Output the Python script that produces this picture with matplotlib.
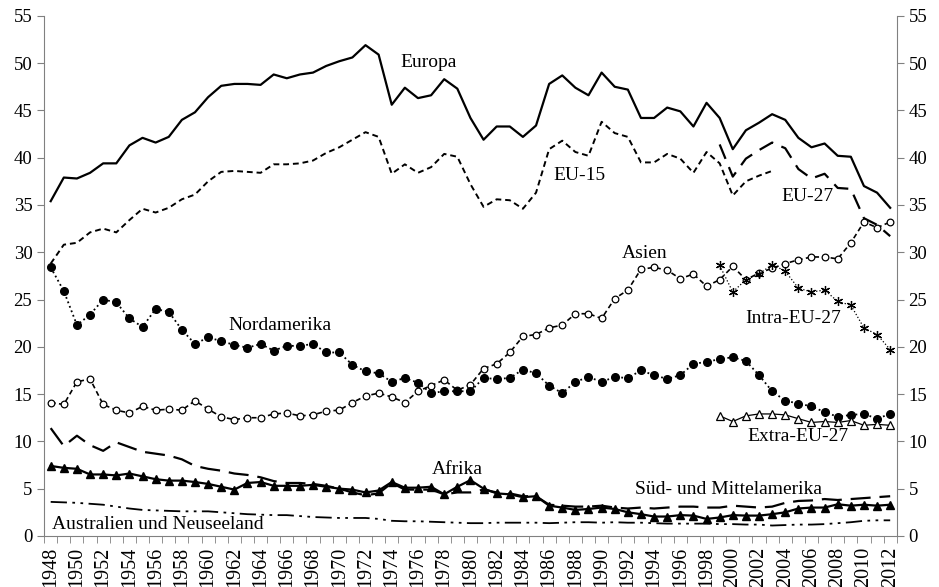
import numpy as np
import matplotlib
matplotlib.use("Agg")
import matplotlib.pyplot as plt

plt.rcParams['font.family'] = ['Liberation Serif', 'DejaVu Serif']

years = np.arange(1948, 2013)
years_eu = np.arange(1999, 2013)
years_eu15 = np.arange(1948, 2004)

europa = [35.4, 37.9, 37.8, 38.4, 39.4, 39.4, 41.3, 42.1, 41.6, 42.2,
          44.0, 44.8, 46.4, 47.6, 47.8, 47.8, 47.7, 48.8, 48.4, 48.8,
          49.0, 49.7, 50.2, 50.6, 51.9, 50.9, 45.6, 47.4, 46.3, 46.6,
          48.3, 47.3, 44.2, 41.9, 43.3, 43.3, 42.2, 43.4, 47.8, 48.7,
          47.4, 46.6, 49.0, 47.5, 47.2, 44.2, 44.2, 45.3, 44.9, 43.3,
          45.8, 44.2, 40.9, 42.9, 43.7, 44.6, 44.0, 42.1, 41.1, 41.5,
          40.2, 40.1, 37.0, 36.3, 34.7]

eu15 = [28.8, 30.8, 31.0, 32.1, 32.5, 32.1, 33.4, 34.6, 34.2, 34.7,
        35.6, 36.1, 37.5, 38.5, 38.6, 38.5, 38.4, 39.3, 39.3, 39.4,
        39.7, 40.5, 41.1, 41.9, 42.7, 42.2, 38.3, 39.3, 38.4, 39.0,
        40.4, 40.1, 37.2, 34.8, 35.6, 35.5, 34.6, 36.3, 40.9, 41.8,
        40.6, 40.2, 43.8, 42.6, 42.2, 39.5, 39.5, 40.4, 39.9, 38.4,
        40.6, 39.4, 36.0, 37.5, 38.1, 38.6]

eu27 = [41.4, 38.0, 39.9, 40.8, 41.6, 41.0, 38.8, 37.8, 38.3, 36.8,
        36.7, 33.6, 32.9, 31.7]

asien = [14.1, 13.9, 16.3, 16.6, 13.9, 13.3, 13.0, 13.7, 13.3, 13.4,
         13.3, 14.3, 13.4, 12.6, 12.3, 12.5, 12.5, 12.9, 13.0, 12.7,
         12.8, 13.2, 13.3, 14.1, 14.8, 15.1, 14.7, 14.1, 15.3, 15.9,
         16.5, 15.4, 16.0, 17.7, 18.2, 19.4, 21.1, 21.3, 22.0, 22.3,
         23.5, 23.5, 23.0, 25.1, 26.0, 28.2, 28.4, 28.1, 27.2, 27.7,
         26.4, 27.1, 28.5, 27.1, 27.8, 28.3, 28.8, 29.2, 29.5, 29.5,
         29.3, 31.0, 33.2, 32.6, 33.2]

nordamerika = [28.4, 25.9, 22.3, 23.4, 25.0, 24.7, 23.0, 22.1, 24.0, 23.7,
               21.8, 20.3, 21.0, 20.6, 20.2, 19.9, 20.3, 19.6, 20.1, 20.1,
               20.3, 19.4, 19.4, 18.1, 17.4, 17.2, 16.3, 16.7, 16.2, 15.1,
               15.3, 15.3, 15.3, 16.7, 16.6, 16.7, 17.6, 17.2, 15.9, 15.1,
               16.3, 16.8, 16.3, 16.8, 16.7, 17.5, 17.0, 16.6, 17.0, 18.2,
               18.4, 18.7, 18.9, 18.5, 17.0, 15.3, 14.3, 14.0, 13.7, 13.1,
               12.6, 12.8, 12.9, 12.4, 12.9]

intra_eu27 = [28.6, 25.8, 27.1, 27.7, 28.7, 28.0, 26.2, 25.8, 26.0, 24.8,
              24.4, 22.0, 21.3, 19.7]

extra_eu27 = [12.7, 12.1, 12.7, 12.9, 12.9, 12.8, 12.4, 12.0, 12.1, 12.0,
              12.2, 11.7, 11.8, 11.7]

afrika = [7.4, 7.2, 7.1, 6.5, 6.5, 6.4, 6.6, 6.3, 6.0, 5.85,
          5.85, 5.7, 5.5, 5.2, 4.9, 5.6, 5.7, 5.3, 5.3, 5.3,
          5.4, 5.2, 5.0, 4.9, 4.6, 4.8, 5.7, 5.1, 5.1, 5.2,
          4.4, 5.2, 5.9, 5.0, 4.5, 4.4, 4.1, 4.2, 3.2, 3.0,
          2.75, 2.85, 3.0, 2.85, 2.5, 2.3, 2.05, 2.05, 2.2, 2.15,
          1.8, 1.95, 2.2, 2.15, 2.15, 2.3, 2.5, 2.9, 3.0, 3.0,
          3.35, 3.2, 3.3, 3.2, 3.3]

sued_mittelamerika = [11.4, 9.5, 10.6, 9.6, 9.0, 9.9, 9.4, 8.9, 8.7, 8.5,
                      8.1, 7.4, 7.1, 6.9, 6.6, 6.45, 6.2, 5.8, 5.6, 5.6,
                      5.5, 5.3, 5.0, 4.6, 4.3, 4.5, 5.6, 4.9, 4.9, 4.9,
                      4.4, 4.6, 4.6, 4.9, 4.6, 4.5, 4.2, 4.2, 3.3, 3.2,
                      3.1, 3.1, 3.2, 3.0, 2.9, 3.0, 2.9, 3.0, 3.1, 3.1,
                      3.0, 3.0, 3.2, 3.1, 3.0, 3.1, 3.5, 3.7, 3.75, 3.9,
                      3.8, 3.9, 4.0, 4.1, 4.2]

australien = [3.6, 3.55, 3.5, 3.4, 3.3, 3.1, 2.9, 2.75, 2.7, 2.65,
              2.6, 2.6, 2.6, 2.5, 2.4, 2.3, 2.25, 2.2, 2.2, 2.1,
              2.0, 1.95, 1.9, 1.9, 1.9, 1.8, 1.6, 1.55, 1.55, 1.5,
              1.45, 1.4, 1.35, 1.35, 1.4, 1.4, 1.4, 1.4, 1.35, 1.4,
              1.45, 1.45, 1.4, 1.45, 1.4, 1.4, 1.35, 1.3, 1.3, 1.3,
              1.3, 1.25, 1.25, 1.2, 1.2, 1.1, 1.15, 1.2, 1.2, 1.25,
              1.35, 1.45, 1.6, 1.65, 1.65]

fig = plt.figure(figsize=(9.39, 5.87), dpi=100)
ax = fig.add_axes([0.047, 0.087, 0.908, 0.886])

k = 'black'
# Linien
ax.plot(years, europa, color=k, lw=1.6)
ax.plot(years_eu15, eu15, color=k, lw=1.4, dashes=(3, 2))
ax.plot(years_eu, eu27, color=k, lw=1.6, dashes=(7, 4))
ax.plot(years, sued_mittelamerika, color=k, lw=1.6, dashes=(9, 4))
ax.plot(years, australien, color=k, lw=1.3, dashes=(9, 3, 1.5, 3, 1.5, 3))
ax.plot(years, afrika, color=k, lw=1.6, marker='^', ms=5.5)
ax.plot(years, asien, color=k, lw=1.2, dashes=(3, 2), marker='o', ms=4.8,
        mfc='white', mew=0.9)
ax.plot(years, nordamerika, color=k, lw=1.3, ls=':', marker='o', ms=5.5)
ax.plot(years_eu, intra_eu27, color=k, lw=0.9, ls=':', marker=(6, 2, 0), ms=6.5,
        mew=0.9)
ax.plot(years_eu, extra_eu27, color=k, lw=0.9, marker='^', ms=5.5,
        mfc='white', mew=0.9)

# Beschriftungen
labels = [('Europa', 1976.8, 50.1), ('EU-15', 1988.3, 38.1),
          ('EU-27', 2005.7, 35.9), ('Asien', 1993.3, 29.9),
          ('Nordamerika', 1965.5, 22.3), ('Intra-EU-27', 2004.6, 23.0),
          ('Extra-EU-27', 2005.0, 10.5), ('Afrika', 1979.0, 7.0),
          ('Süd- und Mittelamerika', 1999.7, 4.9),
          ('Australien und Neuseeland', 1956.2, 1.2)]
for txt, x, y in labels:
    ax.text(x, y, txt, ha='center', va='center', fontsize=14)

ax.set_xlim(1947.5, 2012.5)
ax.set_ylim(0, 55)
ax.set_yticks(np.arange(0, 56, 5))
ax.set_xticks(years[::2])
ax.set_xticks(np.arange(1947.5, 2013, 1), minor=True)
ax.tick_params(axis='x', which='major', length=0, labelrotation=90,
               labelsize=14.5, pad=8)
ax.tick_params(axis='x', which='minor', length=5, color='#808080')
ax.tick_params(axis='y', labelsize=13.5, length=5, color='#808080',
               right=True, labelright=True)

for s in ['left', 'bottom', 'right']:
    ax.spines[s].set_color('#808080')
ax.spines['top'].set_visible(False)

fig.savefig('out.png', dpi=100)
